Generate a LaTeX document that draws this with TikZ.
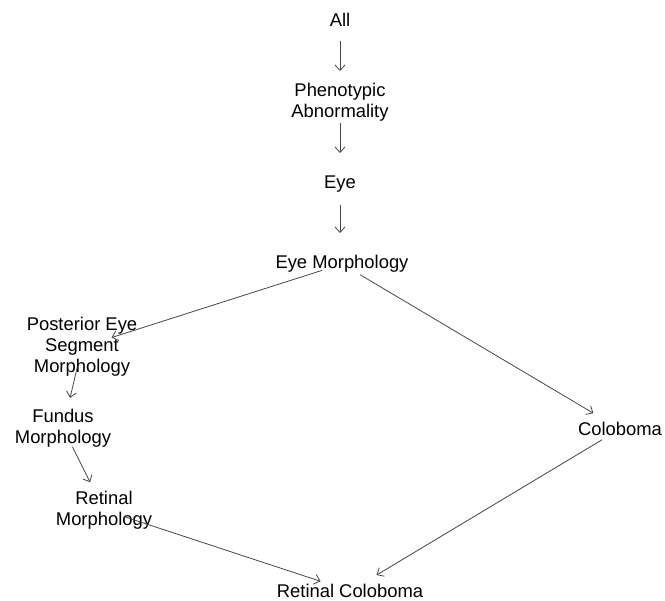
\documentclass[tikz,border=0pt]{standalone}
\usepackage{fontspec}
\setmainfont{Liberation Sans}
\usetikzlibrary{arrows.meta}
\begin{document}
\begin{tikzpicture}[x=1pt,y=-1pt,
  term/.style={align=center, inner sep=0pt, text=black,
    font=\fontsize{18.4}{21}\selectfont},
  link/.style={draw=black!72, line width=0.8pt,
    -{Straight Barb[length=5.5pt,width=10pt]},
    shorten <=21pt, shorten >=31pt}]
  \useasboundingbox[fill=white] (0,0) rectangle (665,601);

  % ontology terms
  \node[term] (all)    at (340,20)  {All};
  \node[term] (pheno)  at (340,102) {Phenotypic\\Abnormality};
  \node[term] (eye)    at (340,184) {Eye};
  \node[term] (eyemor) at (342,264) {Eye Morphology};
  \node[term] (post)   at (82,347)  {Posterior Eye\\Segment\\Morphology};
  \node[term] (fundus) at (63,428)  {Fundus\\Morphology};
  \node[term] (retmor) at (104,510) {Retinal\\Morphology};
  \node[term] (colob)  at (620,429) {Coloboma};
  \node[term] (retcol) at (350,591) {Retinal Coloboma};

  % is-a links, drawn between term centres
  \draw[link] (all.center)    -- (pheno.center);
  \draw[link] (pheno.center)  -- (eye.center);
  \draw[link] (eye.center)    -- (eye.center |- eyemor.center);
  \draw[link] (eyemor.center) -- (post.center);
  \draw[link] (eyemor.center) -- (colob.center);
  \draw[link] (post.center)   -- (fundus.center);
  \draw[link] (fundus.center) -- (retmor.center);
  \draw[link] (retmor.center) -- (retcol.center);
  \draw[link] (colob.center)  -- (retcol.center);
\end{tikzpicture}
\end{document}
